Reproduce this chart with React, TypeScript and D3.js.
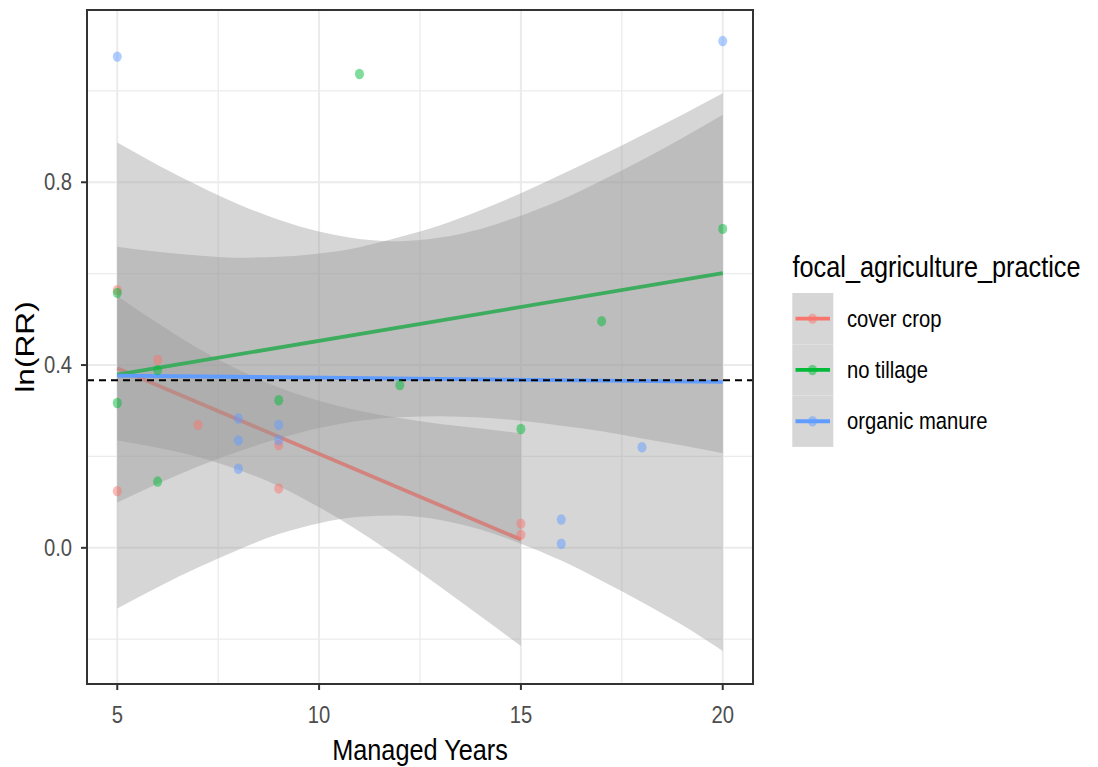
import * as d3 from "d3";

const W = 1098, H = 767;
const FONT = "'Liberation Sans', Arial, Helvetica, sans-serif";
const SQUEEZE = 0.92; // the original export is a bit condensed horizontally

const GROUPS = ["cover crop", "no tillage", "organic manure"];
const COLORS = ["#F8766D", "#00BA38", "#619CFF"];

// observations (Managed Years, ln(RR))
const coverYears = [5, 5, 6, 7, 9, 9, 15, 15];
const coverRR = [0.564, 0.124, 0.411, 0.269, 0.225, 0.130, 0.053, 0.029];
const tillYears = [5, 5, 6, 6, 9, 11, 12, 15, 17, 20];
const tillRR = [0.558, 0.317, 0.389, 0.145, 0.323, 1.037, 0.356, 0.260, 0.496, 0.698];
const manureYears = [5, 8, 8, 8, 9, 9, 16, 16, 18, 20];
const manureRR = [1.075, 0.283, 0.235, 0.173, 0.269, 0.236, 0.062, 0.009, 0.220, 1.109];

// lm fits, start and end
const coverFitX = [5, 15];
const coverFitY = [0.393, 0.018];
const tillFitX = [5, 20];
const tillFitY = [0.379, 0.601];
const manureFitX = [5, 20];
const manureFitY = [0.377, 0.363];

// confidence bands, one value per year
const bandYearsShort = [5, 6, 7, 8, 9, 10, 11, 12, 13, 14, 15];
const bandYearsLong = [5, 6, 7, 8, 9, 10, 11, 12, 13, 14, 15, 16, 17, 18, 19, 20];
const coverLo = [0.235, 0.219, 0.199, 0.171, 0.135, 0.089, 0.036, -0.023, -0.085, -0.150, -0.215];
const coverHi = [0.551, 0.492, 0.437, 0.390, 0.351, 0.322, 0.300, 0.284, 0.271, 0.261, 0.251];
const tillLo = [0.099, 0.140, 0.178, 0.211, 0.239, 0.262, 0.278, 0.286, 0.288, 0.285, 0.278, 0.267, 0.255, 0.239, 0.224, 0.207];
const tillHi = [0.659, 0.648, 0.640, 0.635, 0.637, 0.644, 0.658, 0.680, 0.706, 0.739, 0.776, 0.817, 0.859, 0.903, 0.948, 0.995];
const manureLo = [-0.133, -0.086, -0.043, -0.004, 0.030, 0.054, 0.068, 0.071, 0.061, 0.040, 0.009, -0.028, -0.072, -0.119, -0.169, -0.226];
const manureHi = [0.887, 0.838, 0.793, 0.752, 0.718, 0.692, 0.676, 0.671, 0.679, 0.698, 0.727, 0.762, 0.804, 0.849, 0.897, 0.948];

const REF_LINE = 0.367;

const X_TICKS = [5, 10, 15, 20];
const X_MINOR = [7.5, 12.5, 17.5];
const Y_TICKS = [0, 0.4, 0.8];
const Y_MINOR = [-0.2, 0.2, 0.6, 1.0];

const series = [
  { name: GROUPS[0], color: COLORS[0], xs: coverYears, ys: coverRR, fitX: coverFitX, fitY: coverFitY, bandX: bandYearsShort, lo: coverLo, hi: coverHi },
  { name: GROUPS[1], color: COLORS[1], xs: tillYears, ys: tillRR, fitX: tillFitX, fitY: tillFitY, bandX: bandYearsLong, lo: tillLo, hi: tillHi },
  { name: GROUPS[2], color: COLORS[2], xs: manureYears, ys: manureRR, fitX: manureFitX, fitY: manureFitY, bandX: bandYearsLong, lo: manureLo, hi: manureHi },
];

const panel = { left: 87, top: 10, right: 753, bottom: 684 };

function Txt({ x, y, size, fill = "#000", anchor = "start", rotate = 0, sx = SQUEEZE, sy = 1, children }: any) {
  return (
    <text
      transform={`translate(${x},${y}) rotate(${rotate}) scale(${sx},${sy})`}
      fontSize={size}
      fontFamily={FONT}
      fill={fill}
      textAnchor={anchor}
    >
      {children}
    </text>
  );
}

export default function App() {
  const x = d3.scaleLinear().domain([4.25, 20.75]).range([panel.left, panel.right]);
  const y = d3.scaleLinear().domain([-0.298, 1.177]).range([panel.bottom, panel.top]);

  const line = d3.line<[number, number]>().x(d => x(d[0])).y(d => y(d[1]));

  const grid = "#ebebeb";
  const keyTop = 293;
  const keyH = 51.3;

  return (
    <svg width={W} height={H} style={{ position: "absolute", left: 0, top: 0, background: "#fff" }}>
      <rect x={0} y={0} width={W} height={H} fill="#fff" />

      {/* grid */}
      {X_MINOR.map(v => (
        <line key={"xm" + v} x1={x(v)} x2={x(v)} y1={panel.top} y2={panel.bottom} stroke={grid} strokeWidth={1.3} />
      ))}
      {Y_MINOR.map(v => (
        <line key={"ym" + v} x1={panel.left} x2={panel.right} y1={y(v)} y2={y(v)} stroke={grid} strokeWidth={1.3} />
      ))}
      {X_TICKS.map(v => (
        <line key={"xg" + v} x1={x(v)} x2={x(v)} y1={panel.top} y2={panel.bottom} stroke={grid} strokeWidth={2} />
      ))}
      {Y_TICKS.map(v => (
        <line key={"yg" + v} x1={panel.left} x2={panel.right} y1={y(v)} y2={y(v)} stroke={grid} strokeWidth={2} />
      ))}

      {/* smooths: ribbon then fitted line, per group */}
      {series.map(s => {
        const band = d3
          .area<number>()
          .x(d => x(d))
          .y0((_, i) => y(s.lo[i]))
          .y1((_, i) => y(s.hi[i]))
          .curve(d3.curveMonotoneX)(s.bandX);
        const fit = line(s.fitX.map((v, i) => [v, s.fitY[i]] as [number, number]));
        return (
          <g key={"sm" + s.name}>
            <path d={band || ""} fill="#999999" fillOpacity={0.4} />
            <path d={fit || ""} fill="none" stroke={s.color} strokeWidth={3.8} />
          </g>
        );
      })}

      {/* reference line */}
      <line
        x1={panel.left}
        x2={panel.right}
        y1={y(REF_LINE)}
        y2={y(REF_LINE)}
        stroke="#000"
        strokeWidth={2}
        strokeDasharray="7,5"
      />

      {/* points */}
      {series.map(s =>
        s.xs.map((v, i) => (
          <ellipse key={s.name + i} cx={x(v)} cy={y(s.ys[i])} rx={4.5} ry={5.2} fill={s.color} fillOpacity={0.5} />
        ))
      )}

      {/* panel border */}
      <rect
        x={panel.left}
        y={panel.top}
        width={panel.right - panel.left}
        height={panel.bottom - panel.top}
        fill="none"
        stroke="#333333"
        strokeWidth={2}
      />

      {/* x axis */}
      {X_TICKS.map(v => (
        <g key={"xt" + v}>
          <line x1={x(v)} x2={x(v)} y1={panel.bottom} y2={panel.bottom + 6} stroke="#333333" strokeWidth={2} />
          <Txt x={x(v)} y={723} size={22} fill="#4d4d4d" anchor="middle" sy={1.05}>{v}</Txt>
        </g>
      ))}
      <Txt x={(panel.left + panel.right) / 2} y={760} size={27.5} anchor="middle" sy={1.05}>Managed Years</Txt>

      {/* y axis */}
      {Y_TICKS.map(v => (
        <g key={"yt" + v}>
          <line x1={panel.left - 6} x2={panel.left} y1={y(v)} y2={y(v)} stroke="#333333" strokeWidth={2} />
          <Txt x={72} y={y(v) + 8} size={22} fill="#4d4d4d" anchor="end" sy={1.05}>{d3.format(".1f")(v)}</Txt>
        </g>
      ))}
      <Txt x={34} y={(panel.top + panel.bottom) / 2} size={27.5} anchor="middle" rotate={-90} sx={1.15} sy={0.95}>
        ln(RR)
      </Txt>

      {/* legend */}
      <Txt x={792.5} y={277} size={27.5} sy={1.05}>focal_agriculture_practice</Txt>
      {series.map((s, i) => {
        const cy = keyTop + keyH * i + keyH / 2;
        return (
          <g key={"lg" + s.name}>
            <rect x={792.3} y={keyTop + keyH * i} width={41} height={keyH} fill="#d6d6d6" />
            <ellipse cx={812.5} cy={cy} rx={4.5} ry={5.2} fill={s.color} fillOpacity={0.5} />
            <line x1={795.5} x2={830} y1={cy} y2={cy} stroke={s.color} strokeWidth={3.8} />
            <Txt x={847} y={cy + 8} size={22} sy={1.05}>{s.name}</Txt>
          </g>
        );
      })}
    </svg>
  );
}
